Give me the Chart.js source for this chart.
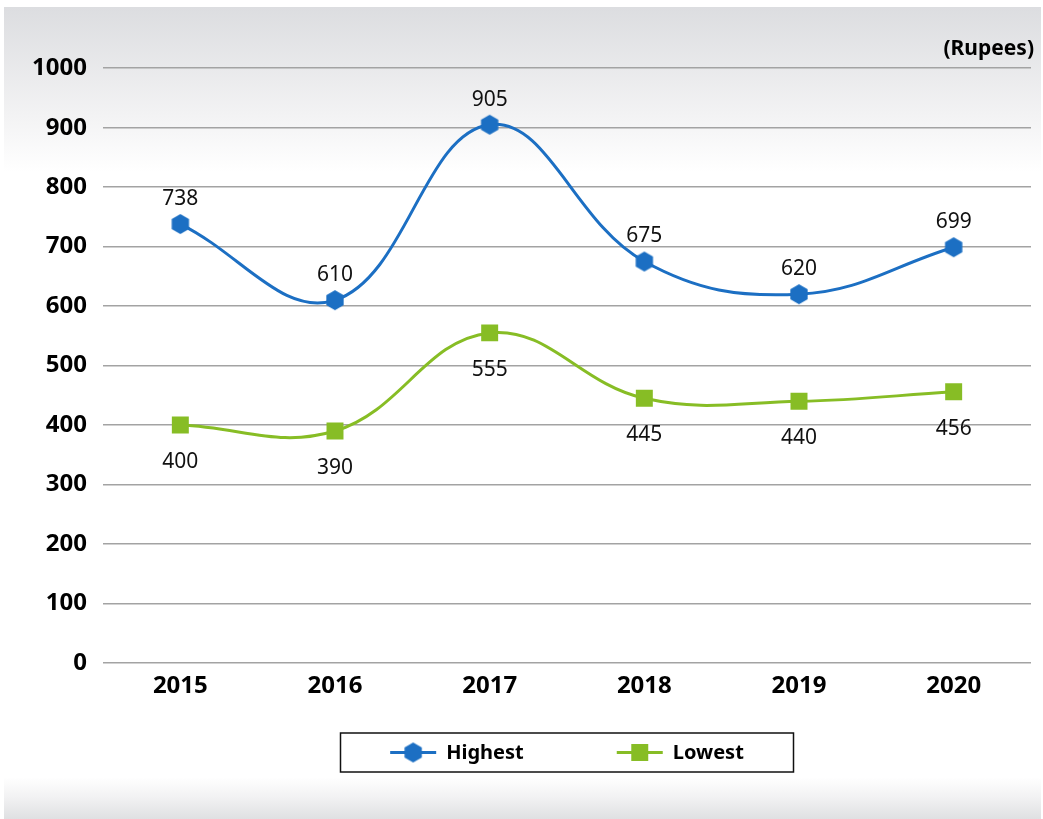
<!DOCTYPE html>
<html>
<head>
<meta charset="utf-8">
<script src="https://cdn.jsdelivr.net/npm/chart.js@4/dist/chart.umd.min.js"></script>
<style>
html, body { margin: 0; padding: 0; background: #fff; }
#bg {
    position: absolute; left: 4px; top: 7px; width: 1037px; height: 812px;
    background: linear-gradient(to bottom, #dcdde0 0px, #f3f3f4 110px, #fff 165px, #fff 770px, #f2f2f3 790px, #dfe0e2 812px);
}
#c { position: absolute; left: 0; top: 0; }
</style>
</head>
<body>
<div id="bg"></div>
<canvas id="c" width="1043" height="819"></canvas>
<script>
var years = ["2015", "2016", "2017", "2018", "2019", "2020"];
var highest = [738, 610, 905, 675, 620, 699];
var lowest = [400, 390, 555, 445, 440, 456];
var seriesNames = ["Highest", "Lowest"];
var unitLabel = "(Rupees)";

var BLUE = "#1c6fc3";
var GREEN = "#87bd25";
var FONT = "'Noto Sans', 'DejaVu Sans', sans-serif";

function hexImg(r, col) {
    var c = document.createElement("canvas");
    var w = Math.ceil(r * 2) + 2;
    c.width = w; c.height = w;
    var x = c.getContext("2d");
    x.fillStyle = col;
    x.beginPath();
    for (var i = 0; i < 6; i++) {
        var a = Math.PI / 180 * (60 * i - 90);
        var px = w / 2 + r * Math.cos(a), py = w / 2 + r * Math.sin(a);
        if (i === 0) x.moveTo(px, py); else x.lineTo(px, py);
    }
    x.closePath();
    x.fill();
    return c;
}
var hex = hexImg(10, BLUE);

// value labels on points
var valLabels = {
    id: "valLabels",
    afterDatasetsDraw: function (chart) {
        var ctx = chart.ctx;
        ctx.save();
        ctx.font = "21px " + FONT;
        ctx.fillStyle = "#111";
        ctx.textAlign = "center";
        ctx.textBaseline = "middle";
        chart.data.datasets.forEach(function (ds, i) {
            var meta = chart.getDatasetMeta(i);
            meta.data.forEach(function (p, j) {
                ctx.fillText(ds.data[j], p.x, p.y + (i === 0 ? -25 : 37));
            });
        });
        ctx.restore();
    }
};

// boxed legend under the plot
var boxLegend = {
    id: "boxLegend",
    afterDraw: function (chart) {
        var ctx = chart.ctx;
        var a = chart.chartArea;
        var cx = (a.left + a.right) / 2;
        var top = 733, h = 39, w = 453;
        ctx.save();
        ctx.fillStyle = "#fff";
        ctx.fillRect(cx - w / 2, top, w, h);
        ctx.strokeStyle = "#111";
        ctx.lineWidth = 1.5;
        ctx.strokeRect(cx - w / 2, top, w, h);

        ctx.font = "bold 20px " + FONT;
        var lineW = 46, gap = 10, itemGap = 93;
        var ds = chart.data.datasets;
        var total = 0;
        ds.forEach(function (d, i) {
            total += lineW + gap + ctx.measureText(d.label).width;
            if (i < ds.length - 1) total += itemGap;
        });
        var x = cx - total / 2;
        var y = top + h / 2;
        ds.forEach(function (d, i) {
            ctx.strokeStyle = d.borderColor;
            ctx.lineWidth = 3;
            ctx.beginPath();
            ctx.moveTo(x, y);
            ctx.lineTo(x + lineW, y);
            ctx.stroke();
            var mx = x + lineW / 2;
            if (d.pointStyle === "rect") {
                var s = d.pointRadius * Math.SQRT1_2;
                ctx.fillStyle = d.pointBackgroundColor;
                ctx.fillRect(mx - s, y - s, 2 * s, 2 * s);
            } else {
                ctx.drawImage(d.pointStyle, mx - d.pointStyle.width / 2, y - d.pointStyle.height / 2);
            }
            ctx.fillStyle = "#000";
            ctx.textAlign = "left";
            ctx.textBaseline = "middle";
            ctx.fillText(d.label, x + lineW + gap, y + 1);
            x += lineW + gap + ctx.measureText(d.label).width + itemGap;
        });
        ctx.restore();
    }
};

new Chart(document.getElementById("c"), {
    type: "line",
    data: {
        labels: years,
        datasets: [
            {
                label: seriesNames[0],
                data: highest,
                borderColor: BLUE,
                backgroundColor: BLUE,
                borderWidth: 3,
                tension: 0.4,
                pointStyle: hex,
                pointRadius: 10,
                pointBackgroundColor: BLUE,
                pointBorderWidth: 0
            },
            {
                label: seriesNames[1],
                data: lowest,
                borderColor: GREEN,
                backgroundColor: GREEN,
                borderWidth: 3,
                tension: 0.4,
                pointStyle: "rect",
                pointRadius: 12,
                pointBackgroundColor: GREEN,
                pointBorderWidth: 0
            }
        ]
    },
    options: {
        responsive: false,
        animation: false,
        layout: { padding: { left: 0, right: 9, top: 36, bottom: 116 } },
        plugins: {
            legend: { display: false },
            tooltip: { enabled: false },
            title: {
                display: true,
                text: unitLabel,
                align: "end",
                color: "#000",
                font: { family: FONT, size: 21, weight: "bold", lineHeight: 1.2 },
                padding: { top: 0, bottom: 7 }
            }
        },
        scales: {
            x: {
                offset: true,
                grid: { display: false },
                border: { display: false },
                ticks: { color: "#000", font: { family: FONT, size: 24, weight: "bold" }, padding: 1 },
                afterFit: function (s) { s.height = 40; }
            },
            y: {
                min: 0,
                max: 1000,
                ticks: {
                    stepSize: 100,
                    color: "#000",
                    font: { family: FONT, size: 24, weight: "bold" },
                    padding: 16,
                    callback: function (v) { return String(v); }
                },
                grid: { color: "#a3a3a3", lineWidth: 1.5, drawTicks: false },
                border: { display: false },
                afterFit: function (s) { s.width = 103; }
            }
        }
    },
    plugins: [valLabels, boxLegend]
});
</script>
</body>
</html>
